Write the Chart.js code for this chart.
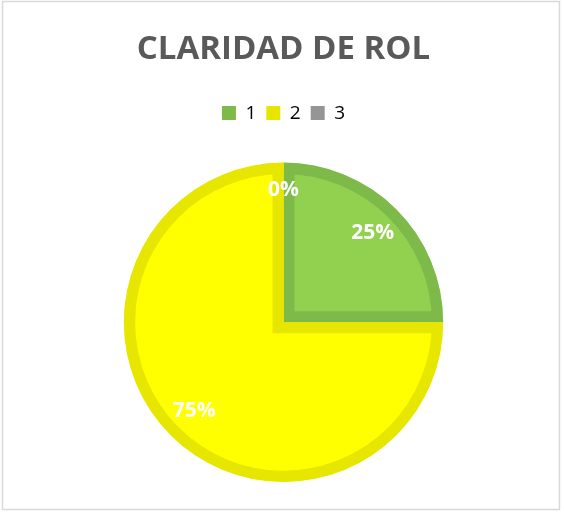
<!DOCTYPE html>
<html>
<head>
<meta charset="utf-8">
<script src="https://cdn.jsdelivr.net/npm/chart.js@4"></script>
<style>
  html, body { margin: 0; padding: 0; background: #fff; }
  #wrap { width: 564px; height: 512px; position: relative; }
</style>
</head>
<body>
<div id="wrap"><canvas id="c" width="564" height="512"></canvas></div>
<script>
const titleText = 'CLARIDAD DE ROL';
const categories = ['1', '2', '3'];
const values = [25, 75, 0];
const fillColors = ['#92D050', '#FFFF00', '#A5A5A5'];
const borderColors = ['#7EBA4A', '#E6E600', '#959595'];

const framePlugin = {
  id: 'frame',
  beforeDraw(chart) {
    const ctx = chart.ctx;
    ctx.save();
    ctx.fillStyle = '#ffffff';
    ctx.fillRect(0, 0, chart.width, chart.height);
    ctx.strokeStyle = '#D9D9D9';
    ctx.lineWidth = 1.5;
    ctx.strokeRect(2.5, 1.5, 557, 508);
    ctx.restore();
  }
};

const legendSpacer = {
  id: 'legendSpacer',
  beforeInit(chart) {
    const origFit = chart.legend.fit;
    chart.legend.fit = function () {
      origFit.call(this);
      this.height += 30;
    };
  }
};

const labelPlugin = {
  id: 'pctLabels',
  afterDatasetsDraw(chart) {
    const ctx = chart.ctx;
    const meta = chart.getDatasetMeta(0);
    const data = chart.data.datasets[0].data;
    const total = data.reduce((a, b) => a + b, 0);
    ctx.save();
    ctx.fillStyle = '#FFFFFF';
    ctx.font = 'bold 21px "Open Sans", sans-serif';
    ctx.textAlign = 'center';
    ctx.textBaseline = 'middle';
    meta.data.forEach((arc, i) => {
      const p = arc.getProps(['x', 'y', 'startAngle', 'endAngle', 'outerRadius'], true);
      const mid = (p.startAngle + p.endAngle) / 2;
      const f = data[i] === 0 ? 0.83 : 0.79;
      const x = p.x + Math.cos(mid) * p.outerRadius * f;
      const y = p.y + Math.sin(mid) * p.outerRadius * f;
      ctx.fillText(Math.round(data[i] / total * 100) + '%', x, y);
    });
    ctx.restore();
  }
};

new Chart(document.getElementById('c'), {
  type: 'pie',
  data: {
    labels: categories,
    datasets: [{
      data: values,
      backgroundColor: fillColors,
      borderColor: borderColors,
      borderWidth: 11,
      borderAlign: 'inner',
      borderJoinStyle: 'miter'
    }]
  },
  options: {
    responsive: false,
    animation: false,
    events: [],
    layout: { padding: { top: 16, bottom: 30, left: 12, right: 9 } },
    plugins: {
      title: {
        display: true,
        text: titleText,
        color: '#595959',
        font: { family: '"Open Sans", sans-serif', size: 33, weight: 'bold', lineHeight: 1.2 },
        padding: { top: 14, bottom: 24 }
      },
      legend: {
        display: true,
        position: 'top',
        labels: {
          color: '#595959',
          font: { family: '"Open Sans", sans-serif', size: 19 },
          boxWidth: 14,
          boxHeight: 14,
          padding: 10,
          generateLabels(chart) {
            return categories.map((c, i) => ({
              text: c,
              fillStyle: borderColors[i],
              strokeStyle: borderColors[i],
              lineWidth: 0,
              index: i,
              datasetIndex: 0
            }));
          }
        }
      },
      tooltip: { enabled: false }
    }
  },
  plugins: [framePlugin, legendSpacer, labelPlugin]
});
</script>
</body>
</html>
